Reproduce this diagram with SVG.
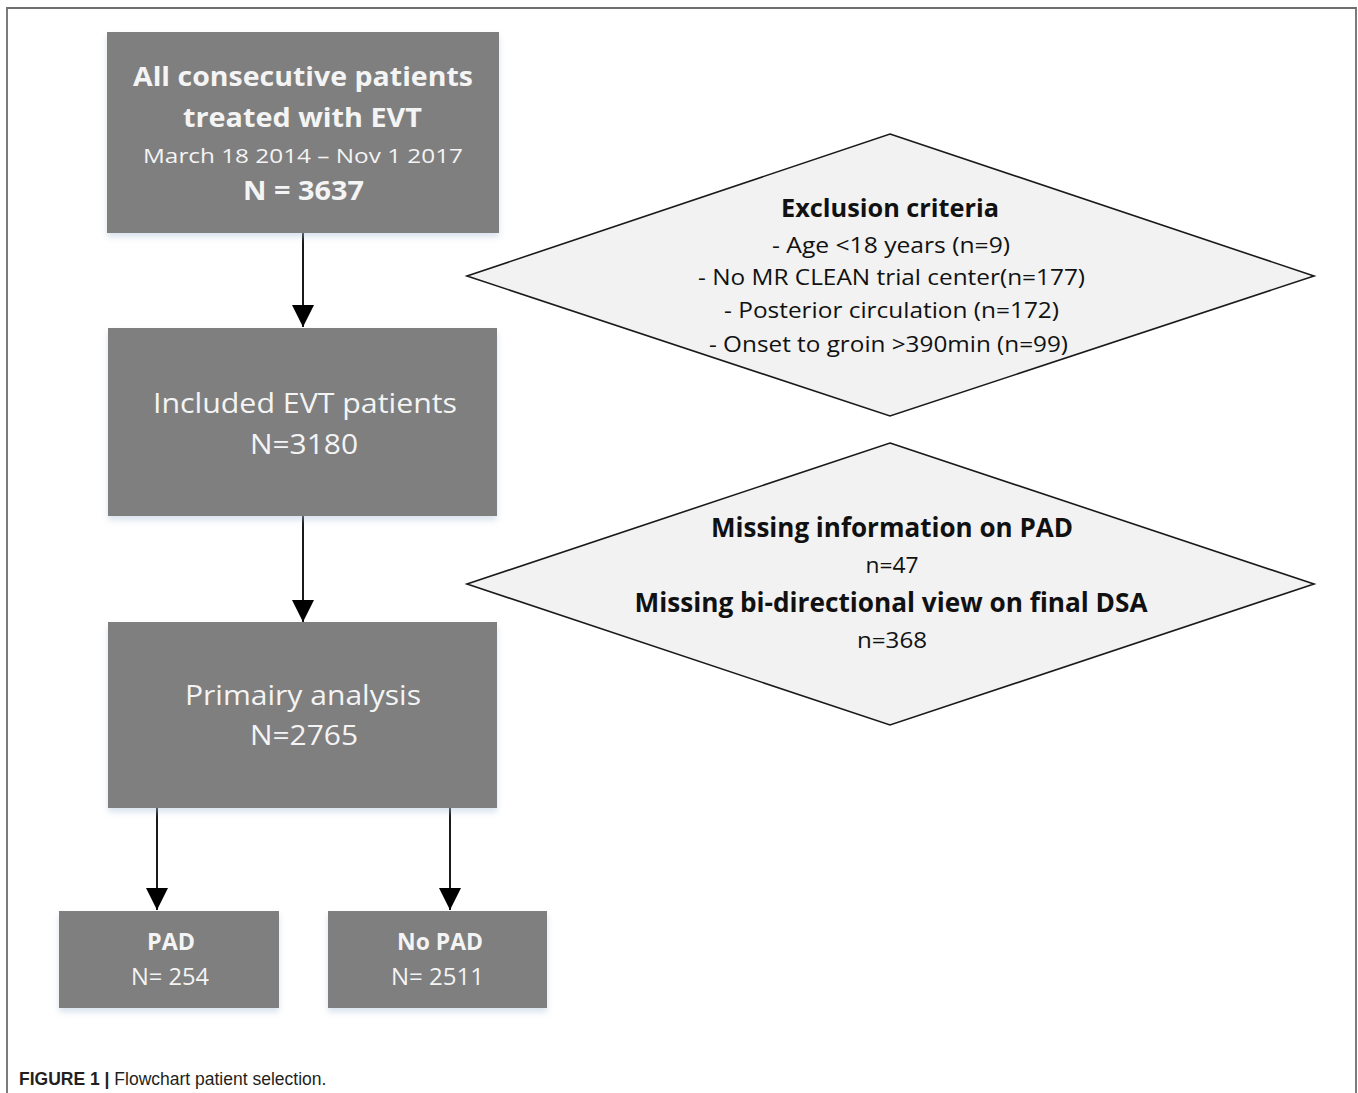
<svg xmlns="http://www.w3.org/2000/svg" width="1358" height="1093" viewBox="0 0 1358 1093">
<style>
  .box { fill: #7f7f7f; filter: url(#shadow); }
  .dia { fill: #f2f2f2; stroke: #1a1a1a; stroke-width: 1.6; }
  .bt { fill: #f4f4f4; font-family: "Open Sans", "Liberation Sans", sans-serif; text-anchor: middle; }
  .dt { fill: #111111; font-family: "Open Sans", "Liberation Sans", sans-serif; text-anchor: middle; }
  .b { font-weight: bold; }
  .conn { stroke: #1a1a1a; stroke-width: 2; fill: none; marker-end: url(#arrow); }
  .cap { font-family: "Liberation Sans", Arial, sans-serif; font-size: 17.5px; fill: #231f20; }
</style>
<defs>
  <marker id="arrow" viewBox="0 0 22 22" markerWidth="22" markerHeight="22" refX="22" refY="11" orient="auto" markerUnits="userSpaceOnUse">
    <path d="M0,0 L22,11 L0,22 Z" fill="#000"/>
  </marker>
  <filter id="shadow" x="-10%" y="-10%" width="120%" height="130%">
    <feDropShadow dx="0" dy="4" stdDeviation="3" flood-color="#a9bdd6" flood-opacity="0.45"/>
  </filter>
</defs>
<rect x="0" y="0" width="1358" height="1093" fill="#ffffff"/>
<path d="M7,1093 V8 H1356 V1093" fill="none" stroke="#6e6e6e" stroke-width="1.8"/>

<g id="connectors">
  <line class="conn" x1="303" y1="233" x2="303" y2="327"/>
  <line class="conn" x1="303" y1="516" x2="303" y2="622"/>
  <line class="conn" x1="157" y1="808" x2="157" y2="910"/>
  <line class="conn" x1="450" y1="808" x2="450" y2="910"/>
</g>

<g id="node-all">
  <rect class="box" x="107" y="32" width="392" height="201"/>
  <text class="bt b" x="303" y="86" font-size="27" textLength="340" lengthAdjust="spacingAndGlyphs">All consecutive patients</text>
  <text class="bt b" x="302.5" y="127" font-size="27" textLength="239" lengthAdjust="spacingAndGlyphs">treated with EVT</text>
  <text class="bt" x="303" y="163" font-size="20" textLength="320" lengthAdjust="spacingAndGlyphs">March 18 2014 – Nov 1 2017</text>
  <text class="bt b" x="303.5" y="200" font-size="27" textLength="121" lengthAdjust="spacingAndGlyphs">N = 3637</text>
</g>

<g id="node-included">
  <rect class="box" x="108" y="328" width="389" height="188"/>
  <text class="bt" x="305" y="413" font-size="27" textLength="304" lengthAdjust="spacingAndGlyphs">Included EVT patients</text>
  <text class="bt" x="304" y="454" font-size="27" textLength="108" lengthAdjust="spacingAndGlyphs">N=3180</text>
</g>

<g id="node-primary">
  <rect class="box" x="108" y="622" width="389" height="186"/>
  <text class="bt" x="303" y="705" font-size="27" textLength="236" lengthAdjust="spacingAndGlyphs">Primairy analysis</text>
  <text class="bt" x="304" y="745" font-size="27" textLength="108" lengthAdjust="spacingAndGlyphs">N=2765</text>
</g>

<g id="node-pad">
  <rect class="box" x="59" y="911" width="220" height="97"/>
  <text class="bt b" x="171" y="950" font-size="24" textLength="48" lengthAdjust="spacingAndGlyphs">PAD</text>
  <text class="bt" x="170" y="985" font-size="24" textLength="78" lengthAdjust="spacingAndGlyphs">N= 254</text>
</g>

<g id="node-nopad">
  <rect class="box" x="328" y="911" width="219" height="97"/>
  <text class="bt b" x="440" y="950" font-size="24" textLength="86" lengthAdjust="spacingAndGlyphs">No PAD</text>
  <text class="bt" x="437.5" y="985" font-size="24" textLength="93" lengthAdjust="spacingAndGlyphs">N= 2511</text>
</g>

<g id="node-exclusion">
  <polygon class="dia" points="890,134 1314,276 890,416 467,276"/>
  <text class="dt b" x="890" y="217" font-size="25" textLength="218" lengthAdjust="spacingAndGlyphs">Exclusion criteria</text>
  <text class="dt" x="891" y="253" font-size="21" textLength="238" lengthAdjust="spacingAndGlyphs">- Age &lt;18 years (n=9)</text>
  <text class="dt" x="891.5" y="285" font-size="21" textLength="387" lengthAdjust="spacingAndGlyphs">- No MR CLEAN trial center(n=177)</text>
  <text class="dt" x="891.5" y="318" font-size="21" textLength="335" lengthAdjust="spacingAndGlyphs">- Posterior circulation (n=172)</text>
  <text class="dt" x="888.5" y="352" font-size="21" textLength="359" lengthAdjust="spacingAndGlyphs">- Onset to groin &gt;390min (n=99)</text>
</g>

<g id="node-missing">
  <polygon class="dia" points="890,443 1314,584 890,725 467,584"/>
  <text class="dt b" x="892" y="537" font-size="26" textLength="362" lengthAdjust="spacingAndGlyphs">Missing information on PAD</text>
  <text class="dt" x="892" y="573" font-size="21" textLength="53" lengthAdjust="spacingAndGlyphs">n=47</text>
  <text class="dt b" x="891" y="612" font-size="26" textLength="513" lengthAdjust="spacingAndGlyphs">Missing bi-directional view on final DSA</text>
  <text class="dt" x="892" y="648" font-size="21" textLength="70" lengthAdjust="spacingAndGlyphs">n=368</text>
</g>

<g id="caption">
  <text class="cap" x="19" y="1085"><tspan font-weight="bold">FIGURE 1 | </tspan>Flowchart patient selection.</text>
</g>
</svg>
